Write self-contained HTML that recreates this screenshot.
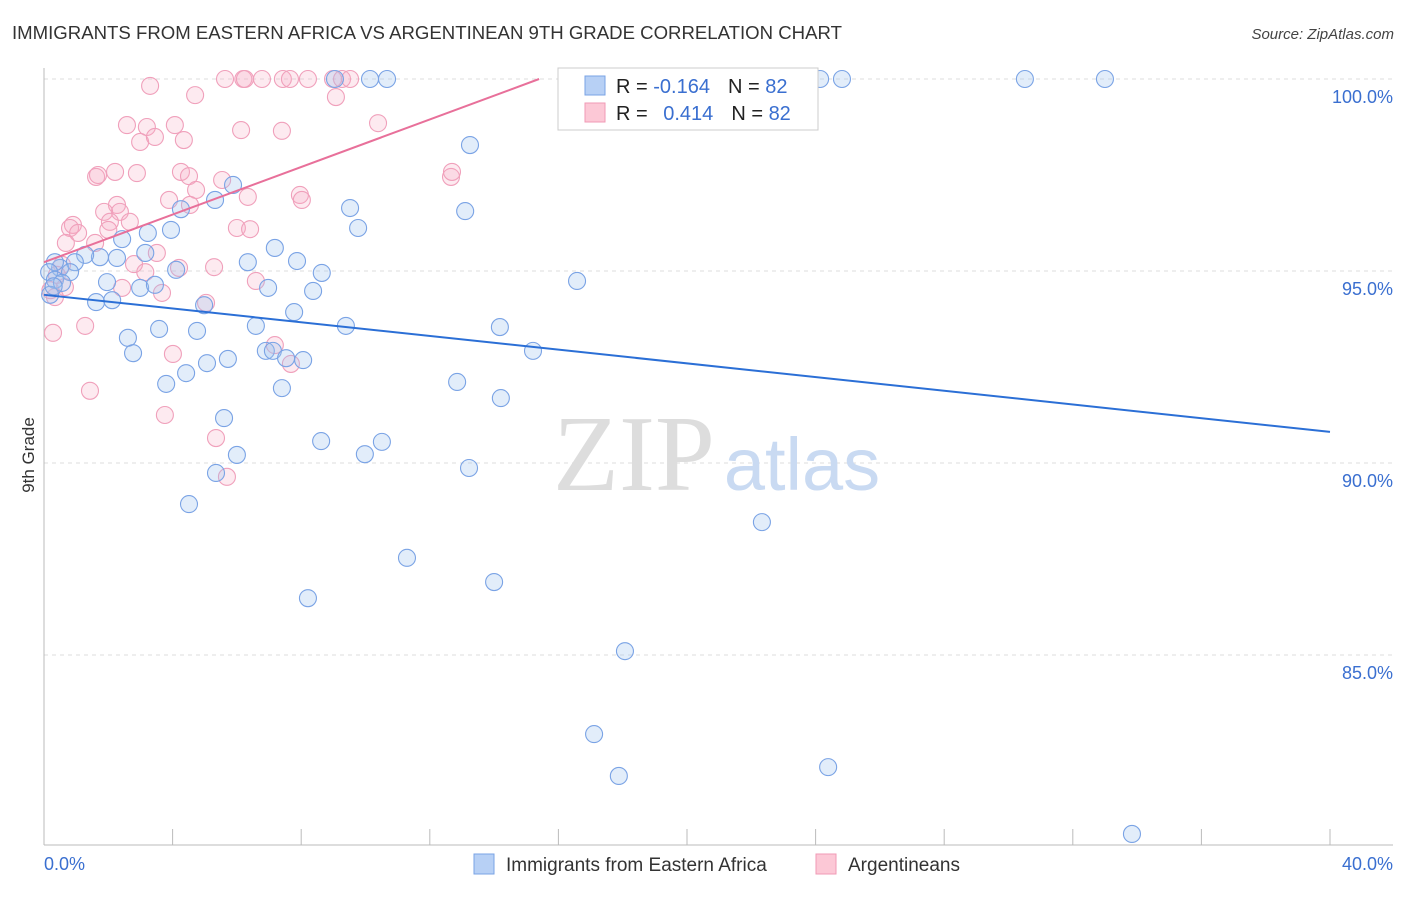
<!DOCTYPE html>
<html><head><meta charset="utf-8"><style>
body{margin:0;background:#fff;font-family:"Liberation Sans",sans-serif}
</style></head><body>
<svg id="c" width="1406" height="892" xmlns="http://www.w3.org/2000/svg" font-family="Liberation Sans, sans-serif">
<text x="12" y="39" font-size="18.6" fill="#333">IMMIGRANTS FROM EASTERN AFRICA VS ARGENTINEAN 9TH GRADE CORRELATION CHART</text>
<text x="1394" y="39" font-size="15" fill="#444" text-anchor="end" font-style="italic">Source: ZipAtlas.com</text>
<g id="grid"></g>
<g>
<text x="634" y="490" font-size="108" font-family="Liberation Serif, serif" fill="#ddd" text-anchor="middle">ZIP</text>
<text x="802" y="490" font-size="74" fill="#c9daf2" text-anchor="middle">atlas</text>
</g>
<g id="pts"></g>
<g id="lines"></g>
<text transform="translate(34,455) rotate(-90)" font-size="17" fill="#333" text-anchor="middle">9th Grade</text>
<text x="44" y="870" font-size="18" fill="#3a6fd0">0.0%</text>
<text x="1393" y="870" font-size="18" fill="#3a6fd0" text-anchor="end">40.0%</text>
<g>
<rect x="558" y="68" width="260" height="62" fill="#fff" stroke="#ccc"/>
<rect x="585" y="76" width="20" height="19" fill="#b7d0f5" stroke="#7aa3e5"/>
<rect x="585" y="103" width="20" height="19" fill="#fcc8d6" stroke="#f09ab5"/>
<text x="616" y="93" font-size="20" fill="#222">R = <tspan fill="#3a6fd0">-0.164</tspan><tspan dx="18">N = </tspan><tspan fill="#3a6fd0">82</tspan></text>
<text x="616" y="120" font-size="20" fill="#222">R = <tspan fill="#3a6fd0" dx="10">0.414</tspan><tspan dx="18">N = </tspan><tspan fill="#3a6fd0">82</tspan></text>
</g>
<g>
<rect x="474" y="854" width="20" height="20" fill="#b7d0f5" stroke="#7aa3e5"/>
<text x="506" y="871" font-size="19" fill="#333">Immigrants from Eastern Africa</text>
<rect x="816" y="854" width="20" height="20" fill="#fcc8d6" stroke="#f09ab5"/>
<text x="848" y="871" font-size="19" fill="#333">Argentineans</text>
</g>
</svg>
<script>
const yTicks=[100,95,90,85];
const yTickLabels=["100.0%","95.0%","90.0%","85.0%"];
const blueX=[9.05,10.14,10.67,17.29,24.14,24.82,30.51,33.0,13.25,13.1,9.52,9.77,5.88,5.32,4.26,3.95,3.23,2.43,3.15,2.27,1.74,1.28,0.96,0.5,0.34,0.16,0.34,0.81,0.56,1.96,1.62,2.12,2.99,3.45,4.11,6.34,7.18,7.87,8.64,6.97,8.37,4.98,6.59,7.78,9.39,14.18,15.21,16.58,2.61,2.77,3.58,4.76,5.07,5.72,6.9,7.12,7.53,8.06,3.8,4.42,7.4,12.85,14.21,5.6,8.62,10.51,9.98,6.0,5.35,13.22,4.51,22.33,11.29,14.0,8.21,18.07,17.11,17.88,24.39,33.84,0.19,0.3];
const blueY=[100,100,100,100,100,100,100,100,98.28,96.56,96.64,96.12,97.24,96.85,96.61,96.07,95.99,95.83,95.47,95.34,95.36,95.42,95.23,95.08,95.23,94.97,94.77,94.97,94.69,94.71,94.19,94.24,94.56,94.64,95.03,95.23,95.6,95.26,94.95,94.56,94.48,94.11,93.57,93.93,93.57,93.54,92.92,94.74,93.26,92.86,93.49,93.44,92.6,92.71,92.92,92.92,92.73,92.68,92.06,92.34,91.95,92.11,91.69,91.17,90.57,90.55,90.23,90.21,89.74,89.87,88.93,88.46,87.53,86.9,86.48,85.1,82.94,81.85,82.08,80.34,94.38,94.6];
const pinkX=[3.3,4.7,5.63,6.2,6.25,6.78,7.43,7.65,8.21,8.99,9.27,9.52,9.08,2.58,3.2,4.07,2.99,3.45,4.35,6.13,7.4,10.39,1.62,1.68,2.21,2.89,4.26,4.51,5.54,4.73,6.34,7.96,8.02,12.66,12.69,3.89,4.54,2.27,2.36,1.87,2.05,2.67,2.0,0.9,0.81,1.06,1.59,0.68,6.0,6.41,3.51,2.8,3.15,4.2,5.29,6.59,2.43,3.67,5.04,0.65,0.34,1.28,0.28,4.01,7.18,7.68,1.43,3.76,5.35,5.69,0.56,0.2,0.4];
const pinkY=[99.82,99.58,100,100,100,100,100,100,100,100,100,100,99.53,98.8,98.75,98.8,98.36,98.49,98.41,98.67,98.65,98.85,97.45,97.5,97.58,97.55,97.58,97.47,97.37,97.11,96.93,96.98,96.85,97.45,97.58,96.85,96.72,96.72,96.54,96.54,96.28,96.28,96.07,96.2,96.12,95.99,95.73,95.73,96.12,96.09,95.47,95.18,94.97,95.08,95.1,94.74,94.56,94.43,94.17,94.58,94.32,93.57,93.39,92.84,93.07,92.58,91.88,91.25,90.65,89.64,95.16,94.5,94.9];
const blueTrend=[94.38,90.81];
const pinkTrend=[95.23,100];
const pinkTrendEndX=15.4;
const NS="http://www.w3.org/2000/svg";
const X0=44,X1=1330;
function sx(v){return X0+(v/40)*(X1-X0);}
function sy(v){return 79+(100-v)*38.4;}
function mk(t,a,p){const e=document.createElementNS(NS,t);for(const k in a)e.setAttribute(k,a[k]);p.appendChild(e);return e;}
const grid=document.getElementById('grid');
yTicks.forEach((t,i)=>{
 const l=mk('line',{x1:X0,x2:1393,y1:sy(t),y2:sy(t),stroke:'#ddd','stroke-dasharray':'4,4'},grid);
 
 
 const tx=mk('text',{x:1393,y:sy(t)+24,'font-size':18,fill:'#3a6fd0','text-anchor':'end'},grid);
 tx.textContent=yTickLabels[i];
 
 
});
const ax=mk('line',{x1:X0,x2:1393,y1:845,y2:845,stroke:'#bbb'},grid);


const ay=mk('line',{x1:X0,x2:X0,y1:68,y2:845,stroke:'#bbb'},grid);


for(let i=0;i<=10;i++){const t=mk('line',{x1:sx(i*4),x2:sx(i*4),y1:829,y2:845,stroke:'#bbb'},grid);
 
 }
const pts=document.getElementById('pts');
pinkX.forEach((v,i)=>{const c=mk('circle',{cx:sx(v),cy:sy(pinkY[i]),r:8.5,fill:'rgba(248,170,195,0.25)',stroke:'#f0a0bb','stroke-width':1.1},pts);
 
 });
blueX.forEach((v,i)=>{const c=mk('circle',{cx:sx(v),cy:sy(blueY[i]),r:8.5,fill:'rgba(160,195,240,0.3)',stroke:'#7aa3e5','stroke-width':1.1},pts);
 
 });
const lines=document.getElementById('lines');
const bl=mk('line',{x1:sx(0),y1:sy(blueTrend[0]),x2:sx(40),y2:sy(blueTrend[1]),stroke:'#2b6fd6','stroke-width':2},lines);


const pl=mk('line',{x1:sx(0),y1:sy(pinkTrend[0]),x2:sx(pinkTrendEndX),y2:sy(pinkTrend[1]),stroke:'#e8709a','stroke-width':2},lines);


</script>
</body></html>
